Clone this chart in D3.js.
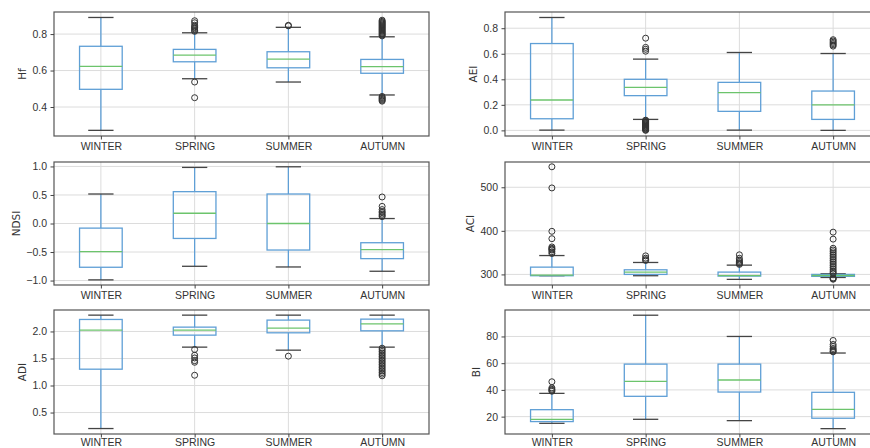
<!DOCTYPE html>
<html>
<head>
<meta charset="utf-8">
<script src="https://cdn.jsdelivr.net/npm/d3@7"></script>
<style>
  body { margin: 0; background: #fff; }
  svg { display: block; font-family: "DejaVu Sans", sans-serif; }
  .tick text { fill: #333; font-size: 10.5px; }
  .tick line { stroke: #444; }
  .domain { display: none; }
</style>
</head>
<body>
<script>
var seasons = ["WINTER", "SPRING", "SUMMER", "AUTUMN"];

// box stats per season: [low whisker, q1, median, q3, high whisker]
var hfBoxes = [[0.272, 0.497, 0.623, 0.733, 0.891], [0.555, 0.648, 0.685, 0.716, 0.807], [0.537, 0.615, 0.663, 0.703, 0.837], [0.466, 0.585, 0.621, 0.661, 0.785]];
var hfOutliers = [[], [0.873, 0.862, 0.848, 0.84, 0.835, 0.828, 0.82, 0.815, 0.537, 0.451], [0.848, 0.845],
  [0.876, 0.87, 0.865, 0.86, 0.855, 0.85, 0.845, 0.84, 0.835, 0.83, 0.825, 0.82, 0.815, 0.81, 0.805, 0.8, 0.795, 0.79, 0.458, 0.452, 0.447, 0.442, 0.437, 0.432]];
var hfTicks = [0.4, 0.6, 0.8];

var aeiBoxes = [[0.002, 0.091, 0.238, 0.68, 0.884], [0.086, 0.272, 0.337, 0.40, 0.558], [0.002, 0.149, 0.295, 0.376, 0.61], [0.0, 0.086, 0.2, 0.308, 0.602]];
var aeiOutliers = [[], [0.722, 0.65, 0.635, 0.62, 0.08, 0.075, 0.07, 0.065, 0.06, 0.055, 0.05, 0.045, 0.04, 0.035, 0.03, 0.025, 0.02, 0.015, 0.01, 0.005, 0.0], [],
  [0.71, 0.70, 0.69, 0.68, 0.67, 0.66]];
var aeiTicks = [0.0, 0.2, 0.4, 0.6, 0.8];

var ndsiBoxes = [[-0.988, -0.767, -0.494, -0.081, 0.517], [-0.75, -0.262, 0.18, 0.558, 0.983], [-0.762, -0.465, 0.0, 0.517, 0.994], [-0.837, -0.616, -0.459, -0.337, 0.087]];
var ndsiOutliers = [[], [], [], [0.465, 0.30, 0.244, 0.21, 0.19, 0.163, 0.14, 0.12]];
var ndsiTicks = [-1.0, -0.5, 0.0, 0.5, 1.0];

var aciBoxes = [[297, 297, 298.5, 316.7, 343.3], [297, 300, 305.3, 310.6, 327.4], [288.6, 296.2, 297, 305.3, 321.3], [293, 295.5, 297.5, 300, 301.5]];
var aciOutliers = [[547, 498.5, 398.9, 382, 363, 360, 358, 356, 352, 348], [342.6, 337.3, 334, 332],
  [345, 337, 333, 330, 327, 325, 323],
  [397, 381, 360, 356, 352, 348, 344, 340, 336, 332, 328, 324, 320, 316, 312, 308, 305, 302, 292, 290, 289]];
var aciTicks = [300, 400, 500];

var adiBoxes = [[0.204, 1.302, 2.025, 2.222, 2.302], [1.71, 1.932, 2.025, 2.08, 2.302], [1.654, 1.975, 2.062, 2.21, 2.302], [1.71, 2.012, 2.142, 2.228, 2.302]];
var adiOutliers = [[], [1.667, 1.56, 1.51, 1.46, 1.43, 1.19], [1.543],
  [1.69, 1.66, 1.63, 1.60, 1.57, 1.54, 1.51, 1.48, 1.45, 1.42, 1.39, 1.36, 1.33, 1.30, 1.27, 1.24, 1.21, 1.18]];
var adiTicks = [0.5, 1.0, 1.5, 2.0];

var biBoxes = [[15.0, 16.3, 18.0, 25.2, 37.4], [18.0, 35.2, 46.4, 59.3, 95.9], [17.0, 38.4, 47.4, 59.3, 80], [11.0, 18.8, 25.5, 38.2, 67.6]];
var biOutliers = [[46.1, 41.5, 40.5, 39.8, 39], [], [], [77, 74, 72.5, 71, 70, 69, 68.5]];
var biTicks = [20, 40, 60, 80];

var panels = [
  {name: "Hf", boxes: hfBoxes, outliers: hfOutliers, ticks: hfTicks, ylim: [0.241, 0.921], fmt: ".1f", col: 0, row: 0},
  {name: "AEI", boxes: aeiBoxes, outliers: aeiOutliers, ticks: aeiTicks, ylim: [-0.044, 0.927], fmt: ".1f", col: 1, row: 0},
  {name: "NDSI", boxes: ndsiBoxes, outliers: ndsiOutliers, ticks: ndsiTicks, ylim: [-1.078, 1.078], fmt: ".1f", col: 0, row: 1},
  {name: "ACI", boxes: aciBoxes, outliers: aciOutliers, ticks: aciTicks, ylim: [275.7, 558], fmt: "d", col: 1, row: 1},
  {name: "ADI", boxes: adiBoxes, outliers: adiOutliers, ticks: adiTicks, ylim: [0.103, 2.397], fmt: ".1f", col: 0, row: 2},
  {name: "BI", boxes: biBoxes, outliers: biOutliers, ticks: biTicks, ylim: [7, 99.8], fmt: "d", col: 1, row: 2}
];

var colX = [54, 505], panelW = 375;
var rowY = [[12, 136], [162, 285], [310, 434]];
var labelPad = [3.5, 3.5, 1.2]; // last row sits at the bottom edge

var svg = d3.select("body").append("svg")
  .attr("width", 870)
  .attr("height", 448);

var blue = "#5f9fd6", green = "#6cc46c", dark = "#444";

panels.forEach(function (p) {
  var x0 = colX[p.col], x1 = x0 + panelW;
  var yTop = rowY[p.row][0], yBot = rowY[p.row][1];

  var x = d3.scalePoint().domain(seasons).range([x0, x1]).padding(0.5);
  var y = d3.scaleLinear().domain(p.ylim).range([yBot, yTop]);
  var step = x.step();
  var boxW = step * 0.455, capW = step * 0.27;

  var g = svg.append("g");

  // grid
  g.selectAll(".hgrid").data(p.ticks).enter().append("line")
    .attr("x1", x0).attr("x2", x1)
    .attr("y1", d => y(d)).attr("y2", d => y(d))
    .attr("stroke", "#dcdcdc").attr("stroke-width", 1);
  g.selectAll(".vgrid").data(seasons).enter().append("line")
    .attr("x1", d => x(d)).attr("x2", d => x(d))
    .attr("y1", yTop).attr("y2", yBot)
    .attr("stroke", "#dcdcdc").attr("stroke-width", 1);

  p.boxes.forEach(function (b, i) {
    var cx = x(seasons[i]);
    // whiskers
    g.append("line").attr("x1", cx).attr("x2", cx).attr("y1", y(b[0])).attr("y2", y(b[1]))
      .attr("stroke", blue).attr("stroke-width", 1.3);
    g.append("line").attr("x1", cx).attr("x2", cx).attr("y1", y(b[3])).attr("y2", y(b[4]))
      .attr("stroke", blue).attr("stroke-width", 1.3);
    // caps
    [b[0], b[4]].forEach(function (v) {
      g.append("line").attr("x1", cx - capW / 2).attr("x2", cx + capW / 2)
        .attr("y1", y(v)).attr("y2", y(v))
        .attr("stroke", dark).attr("stroke-width", 1.3);
    });
    // box
    g.append("rect")
      .attr("x", cx - boxW / 2).attr("width", boxW)
      .attr("y", y(b[3])).attr("height", Math.max(0.5, y(b[1]) - y(b[3])))
      .attr("fill", "none").attr("stroke", blue).attr("stroke-width", 1.3);
    // median
    g.append("line").attr("x1", cx - boxW / 2).attr("x2", cx + boxW / 2)
      .attr("y1", y(b[2])).attr("y2", y(b[2]))
      .attr("stroke", green).attr("stroke-width", 1.3);
    // fliers
    g.selectAll(null).data(p.outliers[i]).enter().append("circle")
      .attr("cx", cx).attr("cy", d => y(d)).attr("r", 3)
      .attr("fill", "none").attr("stroke", "#333").attr("stroke-width", 1);
  });

  // frame
  g.append("rect")
    .attr("x", x0).attr("y", yTop).attr("width", panelW).attr("height", yBot - yTop)
    .attr("fill", "none").attr("stroke", "#555").attr("stroke-width", 1.2);

  // axes
  g.append("g")
    .attr("transform", "translate(0," + yBot + ")")
    .call(d3.axisBottom(x).tickSize(3.5).tickPadding(labelPad[p.row]));
  var ya = g.append("g")
    .attr("transform", "translate(" + x0 + ",0)")
    .call(d3.axisLeft(y).tickValues(p.ticks).tickFormat(d3.format(p.fmt)).tickSize(3.5).tickPadding(3.5));

  var bb = ya.node().getBBox();
  g.append("text")
    .attr("transform", "translate(" + (x0 + bb.x - 6) + "," + ((yTop + yBot) / 2) + ") rotate(-90)")
    .attr("text-anchor", "middle")
    .attr("fill", "#333")
    .style("font-size", "10.5px")
    .text(p.name);
});
</script>
</body>
</html>
